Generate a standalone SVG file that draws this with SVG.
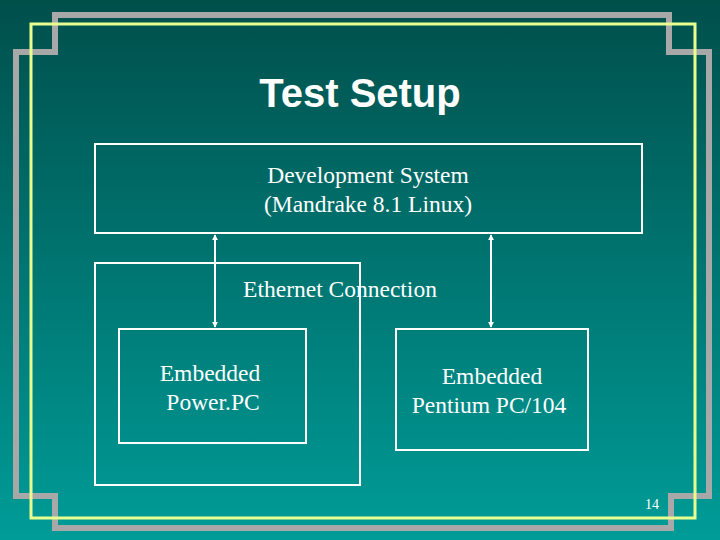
<svg xmlns="http://www.w3.org/2000/svg" width="720" height="540" viewBox="0 0 720 540">
<defs>
<linearGradient id="bg" x1="0" y1="0" x2="0" y2="1">
<stop offset="0" stop-color="#004f4b"/>
<stop offset="1" stop-color="#009c98"/>
</linearGradient>
<marker id="ah" viewBox="0 0 8 8" refX="7" refY="4" markerWidth="6" markerHeight="6" orient="auto-start-reverse" markerUnits="userSpaceOnUse">
<path d="M0,0 L8,4 L0,8 z" fill="#ffffff"/>
</marker>
<style>
.box{fill:none;stroke:#ffffff;stroke-width:2}
.t{font-family:"Liberation Serif",serif;font-size:23.5px;fill:#ffffff;text-anchor:middle}
.c{stroke:#ffffff;stroke-width:2;fill:none}
</style>
</defs>
<rect width="720" height="540" fill="url(#bg)"/>
<g id="frame">
<path d="M55,15 H669 V52 H709 V496 H671 V528 H55 V496 H16 V52 H55 Z" fill="none" stroke="#a8a8a8" stroke-width="6"/>
<rect x="31" y="24" width="664" height="494" fill="none" stroke="#e8ff90" stroke-width="3"/>
</g>
<text x="360" y="107" font-family="Liberation Sans,sans-serif" font-size="40" font-weight="bold" fill="#ffffff" text-anchor="middle">Test Setup</text>
<g id="dev"><rect class="box" x="95" y="144" width="547" height="89"/>
<text class="t" x="368" y="183">Development System</text>
<text class="t" x="368" y="212">(Mandrake 8.1 Linux)</text></g>
<g id="ethernet"><rect class="box" x="95" y="263" width="265" height="222"/>
<text class="t" x="340" y="297">Ethernet Connection</text></g>
<g id="ppc"><rect class="box" x="119" y="329" width="187" height="114"/>
<text class="t" x="210" y="381">Embedded</text>
<text class="t" x="213" y="410">Power.PC</text></g>
<g id="pentium"><rect class="box" x="396" y="329" width="192" height="121"/>
<text class="t" x="492" y="384">Embedded</text>
<text class="t" x="489" y="413">Pentium  PC/104</text></g>
<g id="connectors">
<line class="c" x1="215" y1="235" x2="215" y2="327" marker-start="url(#ah)" marker-end="url(#ah)"/>
<line class="c" x1="491" y1="235" x2="491" y2="327" marker-start="url(#ah)" marker-end="url(#ah)"/>
</g>
<text x="652" y="509" font-family="Liberation Serif,serif" font-size="14" fill="#ffffff" text-anchor="middle">14</text>
</svg>
